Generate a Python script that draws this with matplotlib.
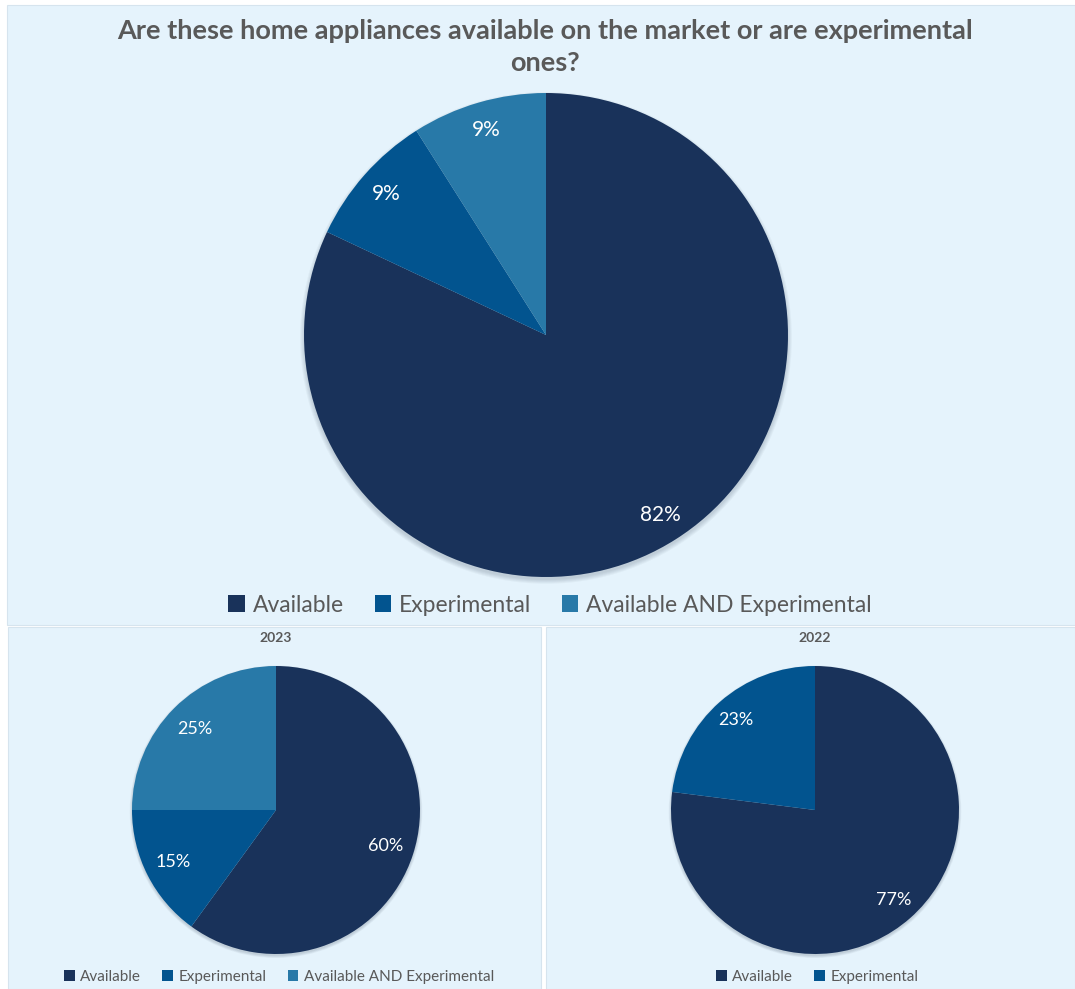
import matplotlib.pyplot as plt
from matplotlib.patches import Rectangle, Circle

# data
categories = ["Available", "Experimental", "Available AND Experimental"]
total_share = [82, 9, 9]
share_2023 = [60, 15, 25]
share_2022 = [77, 23]

TITLE = "Are these home appliances available on the market or are experimental\nones?"

NAVY = "#19325A"
BLUE = "#02548F"
TEAL = "#2879A8"
COLORS = [NAVY, BLUE, TEAL]
PANEL = "#E5F3FC"
EDGE = "#D6E4EE"
GREY = "#595959"

W, H = 1075, 989
plt.rcParams["font.family"] = ["Lato", "DejaVu Sans"]

fig = plt.figure(figsize=(W / 100, H / 100), dpi=100)
fig.patch.set_facecolor("white")


def panel(x0, y0, x1, y1):
    # pixel box (top-left origin) -> figure rectangle
    fig.patches.append(Rectangle((x0 / W, 1 - y1 / H), (x1 - x0) / W, (y1 - y0) / H,
                                 transform=fig.transFigure, facecolor=PANEL,
                                 edgecolor=EDGE, linewidth=0.8, zorder=-5))


def pie_axes(cx, cy, r):
    ax = fig.add_axes([(cx - r) / W, 1 - (cy + r) / H, 2 * r / W, 2 * r / H])
    ax.set_xlim(-1, 1)
    ax.set_ylim(-1, 1)
    ax.set_aspect("equal")
    ax.axis("off")
    ax.patch.set_alpha(0)
    # soft shadow under the disc
    for i in range(5):
        ax.add_patch(Circle((0, -0.012), 1 + 0.004 * i, facecolor="#0A1A30",
                            alpha=0.035, edgecolor="none", zorder=0,
                            clip_on=False))
    return ax


def draw_pie(ax, values, dist, fs):
    wedges, texts = ax.pie(values, colors=COLORS[:len(values)], startangle=90,
                           counterclock=False, radius=1, labeldistance=dist,
                           labels=[f"{v}%" for v in values],
                           wedgeprops=dict(linewidth=0, zorder=2),
                           textprops=dict(color="white", fontsize=fs))
    for t in texts:
        t.set_ha("center")
        t.set_va("center")
        t.set_zorder(3)
    ax.set_xlim(-1, 1)
    ax.set_ylim(-1, 1)
    return wedges


panel(7, 5, 1075, 625)
panel(8, 627, 541, 989)
panel(546, 627, 1075, 989)

fig.text(545 / W, 1 - 47 / H, TITLE, ha="center", va="center", fontsize=19.5,
         fontweight="bold", color=GREY, linespacing=1.4)

ax_top = pie_axes(546, 335, 242)
w_top = draw_pie(ax_top, total_share, 0.88, 15)
fig.legend(w_top, categories, loc="center", bbox_to_anchor=(550 / W, 1 - 605 / H),
           ncol=3, frameon=False, fontsize=16.5, labelcolor=GREY,
           handlelength=0.7, handleheight=0.7, handletextpad=0.35,
           columnspacing=1.35)

ax_l = pie_axes(276, 810, 144)
w_l = draw_pie(ax_l, share_2023, 0.8, 13)
fig.text(276 / W, 1 - 638 / H, "2023", ha="center", va="center", fontsize=10,
         fontweight="bold", color=GREY)
fig.legend(w_l, categories, loc="center", bbox_to_anchor=(279 / W, 1 - 977 / H),
           ncol=3, frameon=False, fontsize=11, labelcolor=GREY,
           handlelength=0.7, handleheight=0.7, handletextpad=0.35,
           columnspacing=1.4)

ax_r = pie_axes(815, 810, 144)
w_r = draw_pie(ax_r, share_2022, 0.83, 13)
fig.text(815 / W, 1 - 638 / H, "2022", ha="center", va="center", fontsize=10,
         fontweight="bold", color=GREY)
fig.legend(w_r, categories[:2], loc="center", bbox_to_anchor=(817 / W, 1 - 977 / H),
           ncol=2, frameon=False, fontsize=11, labelcolor=GREY,
           handlelength=0.7, handleheight=0.7, handletextpad=0.35,
           columnspacing=1.4)

fig.savefig("out.png", dpi=100, facecolor="white")
